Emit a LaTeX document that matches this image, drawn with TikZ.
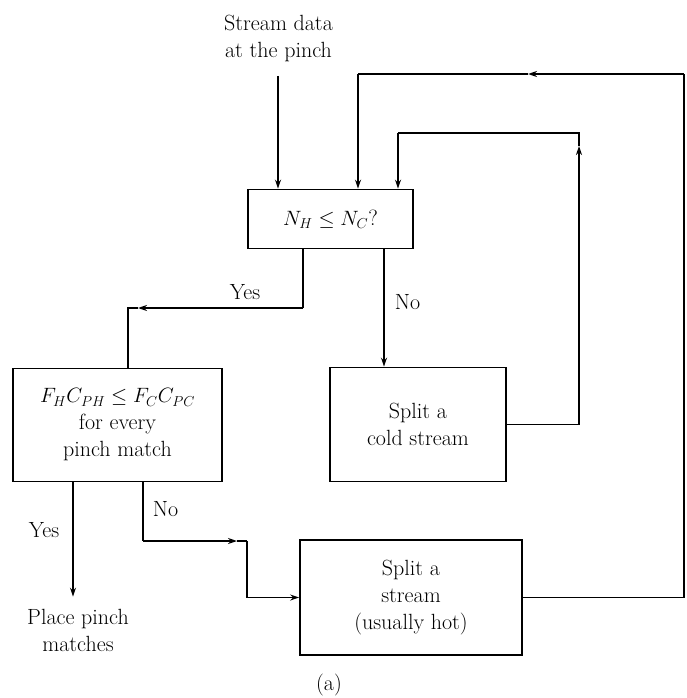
\documentclass[tikz,border=0pt]{standalone}
\usetikzlibrary{arrows.meta}

\tikzset{
  box/.style={draw, line width=1.7pt, align=center, inner sep=0pt},
  flow/.style={line width=1.7pt},
  lbl/.style={align=center, inner sep=0pt},
}

\begin{document}
\begin{tikzpicture}[x=1pt, y=-1pt, >={Stealth[length=9pt,width=6pt]},
  font=\fontsize{22}{27}\selectfont]
  \useasboundingbox[fill=white] (0,0) rectangle (686,698);

  % boxes
  \node[box, minimum width=165pt, minimum height=59pt] (nh) at (330.5,219) {$N_H \le N_C$?};
  \node[box, minimum width=209pt, minimum height=113pt] (fc) at (117.5,425) {$F_H C_{PH} \le F_C C_{PC}$\\for every\\pinch match};
  \node[box, minimum width=176pt, minimum height=114pt] (cold) at (418,424.5) {Split a\\cold stream};
  \node[box, minimum width=222pt, minimum height=115pt] (hot) at (411,597.5) {Split a\\stream\\(usually hot)};

  % free texts
  \node[lbl] (src) at (278.5,38) {Stream data\\at the pinch};
  \node[lbl] (place) at (78,630) {Place pinch\\matches};
  \node[lbl] (cap) at (329,685) {(a)};

  % bend points
  \coordinate (in1) at (278,76);
  \coordinate (rt) at (684,74);
  \coordinate (lt) at (358,74);
  \coordinate (up) at (579,146);
  \coordinate (c1) at (579,133);
  \coordinate (c2) at (398,133);
  \coordinate (noA) at (384,0);
  \coordinate (yesA) at (303,308);
  \coordinate (yesT) at (138,308);
  \coordinate (yesB) at (128,308);
  \coordinate (yesC) at (73,0);
  \coordinate (noB) at (143,541);
  \coordinate (noC) at (247,541);

  % connectors
  \draw[flow, ->] (in1) -- (in1 |- nh.north);
  \draw[flow] (hot.east) -| (rt);
  \draw[flow, ->] (rt) -- (528,74);
  \draw[flow] (528,74) -- (lt);
  \draw[flow, ->] (lt) -- (lt |- nh.north);
  \draw[flow, ->] (cold.east) -| (up);
  \draw[flow] (up) -- (c1) -- (c2);
  \draw[flow, ->] (c2) -- (c2 |- nh.north);
  \draw[flow, ->] (noA |- nh.south) -- node[lbl, right=10pt, pos=0.45] {No} (noA |- cold.north);
  \draw[flow] (yesA |- nh.south) -- node[lbl, left=42pt, pos=0.72] {Yes} (yesA);
  \draw[flow, ->] (yesA) -- (yesT);
  \draw[flow] (yesT) -- (yesB) -- (yesB |- fc.north);
  \draw[flow, ->, shorten >=12pt] (yesC |- fc.south) -- node[lbl, left=13pt, pos=0.38] {Yes} (yesC |- place.north);
  \draw[flow] (noB |- fc.south) -- node[lbl, right=9pt, pos=0.45] {No} (noB);
  \draw[flow, ->] (noB) -- ([xshift=-10pt]noC);
  \draw[flow] ([xshift=-10pt]noC) -- (noC);
  \draw[flow, ->] (noC) |- (hot.west);
\end{tikzpicture}
\end{document}
